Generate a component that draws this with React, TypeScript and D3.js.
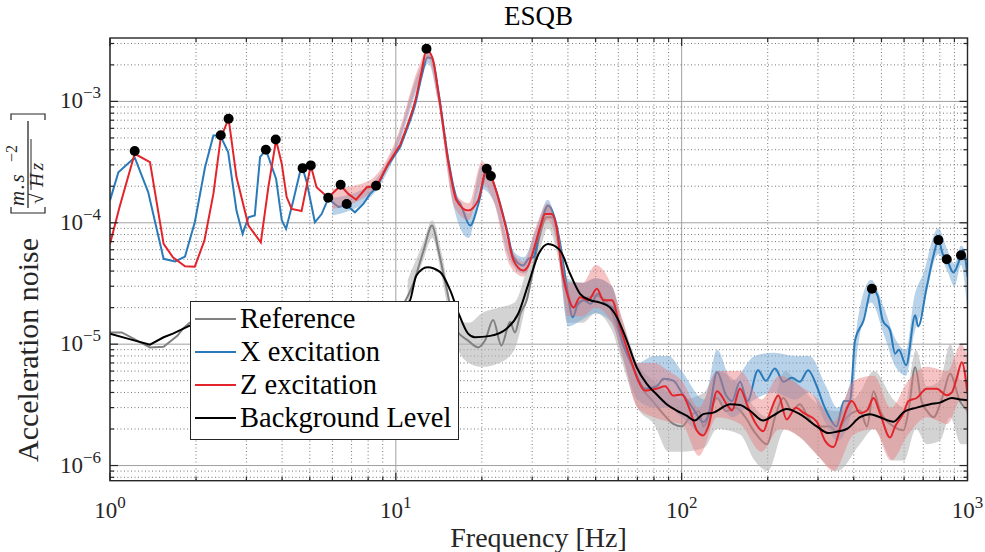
import React from 'react';
import * as d3 from 'd3';

// ---- layout (px) ----
const W = 985;
const H = 552;
const LEFT = 110;
const RIGHT = 967.5;
const TOP = 38;
const BOTTOM = 480.7;

// ---- data: [frequency Hz, noise] ----
const referenceSmooth: [number, number][] = [
  [1.0, 1.25e-5], [1.1, 1.25e-5], [1.38, 9.4e-6], [1.54, 9.5e-6], [1.72, 1.17e-5], [1.8, 1.34e-5],
  [1.9, 1.5e-5], [2.5, 1.6e-5], [4, 1.5e-5], [6, 1.4e-5], [8, 1.45e-5], [10, 1.7e-5],
  [11.5, 3.14e-5], [12.5, 5.9e-5], [13.4, 9.5e-5], [14.1, 5.9e-5], [15.1, 2.77e-5], [16.3, 1.3e-5],
  [17.9, 1.07e-5], [19.4, 9.4e-6], [20.5, 1.07e-5], [21.9, 1.58e-5], [23.4, 9.75e-6], [25.1, 1.52e-5],
  [26.1, 1.25e-5], [27.3, 1.8e-5], [28.7, 2.3e-5], [29.9, 3.6e-5], [31.6, 7.2e-5], [33.7, 1.11e-4],
  [35.5, 1.11e-4], [37.6, 6e-5], [39.5, 3.0e-5], [42, 2.0e-5], [45, 2.3e-5], [50, 2.5e-5],
  [55, 2.2e-5], [60, 1.3e-5], [66, 7.5e-6], [72, 4.5e-6], [80, 3.3e-6], [87, 2.6e-6],
  [93.5, 2.2e-6], [100, 2.1e-6], [108, 2.6e-6], [115, 2.8e-6], [119, 2.1e-6], [133, 3.6e-6],
  [143, 2.8e-6], [155, 3.0e-6], [167, 2.5e-6], [181, 1.85e-6], [199, 1.5e-6], [212, 2.5e-6],
  [227, 3.6e-6], [243, 2.84e-6], [259, 3.2e-6], [277, 2.5e-6], [297, 2.1e-6], [330, 2.1e-6],
  [348, 1.9e-6], [378, 2.5e-6], [421, 2.84e-6], [445, 2.1e-6], [469, 4.1e-6], [494, 2.84e-6],
  [551, 2.1e-6], [597, 1.95e-6], [622, 2.84e-6], [656, 6.45e-6], [690, 3.4e-6], [720, 2.84e-6],
  [760, 2.5e-6], [820, 3.77e-6], [869, 5.7e-6], [940, 3.4e-6], [1000, 2.84e-6],
];

const xExcitationSmooth: [number, number][] = [
  [1.0, 1.53e-4], [1.07, 2.61e-4], [1.22, 3.45e-4], [1.36, 1.79e-4], [1.54, 5.05e-5], [1.69, 4.8e-5],
  [1.83, 5.27e-5], [1.98, 1.01e-4], [2.15, 2.87e-4], [2.3, 5.25e-4], [2.43, 5.25e-4], [2.59, 3.82e-4],
  [2.77, 1.26e-4], [2.91, 8.1e-5], [3.05, 1.11e-4], [3.21, 1.15e-4], [3.35, 3.47e-4], [3.51, 4.0e-4],
  [3.81, 2.31e-4], [3.99, 1.05e-4], [4.13, 8.9e-5], [4.38, 1.53e-4], [4.62, 2.61e-4], [4.72, 2.82e-4],
  [4.88, 2.16e-4], [5.21, 1.01e-4], [5.5, 1.18e-4], [5.8, 1.58e-4], [6.3, 1.35e-4], [6.73, 1.4e-4],
  [7.19, 1.22e-4], [7.7, 1.43e-4], [8.12, 1.73e-4], [8.57, 1.96e-4], [9.29, 2.87e-4], [10.35, 4.2e-4],
  [10.9, 5.8e-4], [11.7, 9.5e-4], [12.3, 1.6e-3], [12.9, 2.3e-3], [13.4, 2.25e-3], [14.1, 1.2e-3],
  [15.3, 3.2e-4], [16.3, 1.6e-4], [16.8, 1.44e-4], [18.2, 9.5e-5], [19.4, 1.4e-4], [20.8, 2.6e-4],
  [21.5, 2.4e-4], [22.5, 1.8e-4], [24.4, 9.0e-5], [25.8, 5.2e-5], [27.9, 4.45e-5], [29.1, 5.05e-5],
  [30.3, 5.2e-5], [32.0, 9.2e-5], [34.1, 1.39e-4], [35.9, 1.11e-4], [37.6, 6.7e-5], [39.5, 3.14e-5],
  [41.6, 1.67e-5], [43.4, 2.15e-5], [45.5, 2.3e-5], [48, 2.15e-5], [51, 2.6e-5], [54, 2.15e-5],
  [57.5, 2.0e-5], [61.7, 1.07e-5], [67.6, 6.45e-6], [74.4, 4.3e-6], [81.8, 4.5e-6], [86.5, 5.2e-6],
  [93.5, 5.0e-6], [100, 4.0e-6], [110, 2.92e-6], [119, 2.28e-6], [124, 2.6e-6], [133, 5.9e-6],
  [143, 3.8e-6], [150, 3.4e-6], [160, 4.9e-6], [170, 3.4e-6], [185, 6.1e-6], [197, 5.0e-6],
  [212, 6.3e-6], [227, 4.9e-6], [243, 5.3e-6], [259, 4.9e-6], [277, 6.1e-6], [297, 4.5e-6],
  [313, 3.2e-6], [326, 2.6e-6], [348, 2.1e-6], [370, 3.4e-6], [388, 3.4e-6], [404, 1.07e-5],
  [433, 1.57e-5], [463, 2.86e-5], [485, 2.5e-5], [505, 1.57e-5], [536, 1.3e-5], [558, 8.35e-6],
  [575, 9.0e-6], [610, 6.7e-6], [656, 1.73e-5], [672, 1.4e-5], [720, 2.95e-5], [763, 5.55e-5],
  [791, 7.2e-5], [820, 5.5e-5], [846, 5.0e-5], [893, 3.9e-5], [949, 5.4e-5], [965, 6.0e-5],
  [1000, 3.6e-5],
];

const zExcitationSmooth: [number, number][] = [
  [1.0, 6.7e-5], [1.08, 1.35e-4], [1.22, 3.7e-4], [1.38, 3.16e-4], [1.54, 6.7e-5], [1.66, 5.2e-5],
  [1.83, 4.38e-5], [1.98, 4.35e-5], [2.14, 7.15e-5], [2.3, 1.73e-4], [2.44, 5.0e-4], [2.6, 7.2e-4],
  [2.77, 2.38e-4], [3.05, 9.5e-5], [3.37, 6.9e-5], [3.58, 1.96e-4], [3.81, 4.8e-4], [3.99, 3.06e-4],
  [4.15, 1.63e-4], [4.32, 1.3e-4], [4.68, 1.25e-4], [5.04, 2.97e-4], [5.28, 1.96e-4], [5.8, 1.61e-4],
  [6.41, 2.03e-4], [6.82, 1.73e-4], [7.26, 1.55e-4], [7.91, 1.96e-4], [8.57, 2.0e-4], [9.41, 3.06e-4],
  [10.35, 4.4e-4], [10.9, 6.1e-4], [11.7, 1.02e-3], [12.3, 1.75e-3], [12.8, 2.65e-3], [13.4, 2.32e-3],
  [14.1, 1.16e-3], [15.3, 3.06e-4], [16.3, 1.53e-4], [17.9, 1.26e-4], [19.4, 1.53e-4], [20.8, 2.75e-4],
  [21.5, 2.45e-4], [22.5, 1.8e-4], [24.4, 8.65e-5], [25.8, 4.9e-5], [27.9, 4.05e-5], [29.1, 4.45e-5],
  [30.3, 5.9e-5], [32.0, 9.2e-5], [33.3, 1.18e-4], [35.1, 1.18e-4], [36.5, 9.2e-5], [38.0, 4.3e-5],
  [40.1, 2.44e-5], [41.8, 2.0e-5], [44.1, 2.44e-5], [47.2, 2.3e-5], [50.5, 2.86e-5], [53.3, 2.3e-5],
  [57.0, 2.3e-5], [60.9, 1.38e-5], [65.9, 7.8e-6], [70.5, 5.0e-6], [74.4, 4.15e-6], [81.8, 4.3e-6],
  [87.5, 4.5e-6], [93.5, 3.77e-6], [100, 3.85e-6], [107, 2.84e-6], [113, 1.94e-6], [119, 1.77e-6],
  [124, 2.1e-6], [133, 4.1e-6], [145, 3.1e-6], [150, 2.84e-6], [160, 4.3e-6], [170, 3.1e-6],
  [180, 2.3e-6], [193, 1.92e-6], [203, 2.65e-6], [218, 3.77e-6], [233, 2.4e-6], [251, 3.0e-6],
  [268, 2.7e-6], [297, 2.3e-6], [318, 1.59e-6], [340, 1.42e-6], [362, 2.2e-6], [394, 3.4e-6],
  [421, 2.7e-6], [445, 2.84e-6], [469, 3.6e-6], [494, 2.7e-6], [536, 1.7e-6], [558, 2.1e-6],
  [597, 2.7e-6], [622, 3.4e-6], [664, 3.6e-6], [720, 4.3e-6], [780, 4.3e-6], [846, 3.8e-6],
  [881, 4.0e-6], [918, 5.3e-6], [955, 7.1e-6], [1000, 3.9e-6],
];

const backgroundLevel: [number, number][] = [
  [1.0, 1.22e-5], [1.17, 1.1e-5], [1.38, 9.9e-6], [1.54, 1.14e-5], [1.66, 1.22e-5], [1.9, 1.42e-5],
  [2.5, 1.6e-5], [4, 1.5e-5], [6, 1.4e-5], [8, 1.5e-5], [10, 1.8e-5], [11.2, 2.29e-5],
  [11.8, 3.68e-5], [12.9, 4.3e-5], [14.3, 3.92e-5], [15.5, 2.77e-5], [16.6, 1.78e-5], [17.9, 1.22e-5],
  [18.9, 1.14e-5], [21.4, 1.17e-5], [24.4, 1.34e-5], [26.8, 1.78e-5], [29.1, 3.14e-5], [31.6, 5.55e-5],
  [34.1, 6.7e-5], [37.6, 5.9e-5], [40.7, 3.8e-5], [44.1, 2.6e-5], [47.9, 2.3e-5], [51.8, 2.2e-5],
  [56.2, 2.0e-5], [59.3, 1.67e-5], [64.3, 1.07e-5], [69.6, 6.45e-6], [75.5, 4.7e-6], [81.8, 3.85e-6],
  [88.6, 3.2e-6], [96, 2.84e-6], [104, 2.58e-6], [111, 2.35e-6], [119, 2.65e-6], [129, 2.73e-6],
  [148, 3.2e-6], [160, 3.15e-6], [173, 2.84e-6], [193, 2.35e-6], [209, 2.58e-6], [233, 2.92e-6],
  [259, 2.65e-6], [297, 2.1e-6], [326, 1.85e-6], [348, 1.9e-6], [378, 2.0e-6], [421, 2.5e-6],
  [456, 2.65e-6], [494, 2.5e-6], [551, 2.3e-6], [597, 2.75e-6], [664, 3.0e-6], [740, 3.2e-6],
  [801, 3.3e-6], [881, 3.6e-6], [942, 3.5e-6], [1000, 3.45e-6],
];

// raw (unsmoothed) spectra, read as a low / high envelope: [frequency, low, high]
const referenceRaw: [number, number, number][] = [
  [11, 2.2e-5, 3.4e-5], [12.5, 5e-5, 7e-5], [13.4, 7.5e-5, 1.05e-4], [14.5, 3.5e-5, 5.5e-5], [16, 1.1e-5, 1.7e-5],
  [18, 7e-6, 1.5e-5], [20, 6.5e-6, 1.8e-5], [23, 7e-6, 2e-5], [26, 9e-6, 2.2e-5], [29, 2.5e-5, 4.5e-5],
  [32, 6e-5, 1e-4], [34, 9e-5, 1.4e-4], [37, 5e-5, 8e-5], [40, 1.5e-5, 3.5e-5], [45, 1.5e-5, 3.2e-5],
  [50, 1.8e-5, 3.5e-5], [57, 1.3e-5, 3e-5], [62, 7e-6, 1.6e-5], [70, 3e-6, 7e-6], [80, 2.2e-6, 5e-6],
  [90, 1.3e-6, 4e-6], [100, 1.3e-6, 3.5e-6], [120, 1.4e-6, 4e-6], [133, 2e-6, 6e-6], [160, 1.8e-6, 4.5e-6],
  [180, 1.1e-6, 3e-6], [200, 9e-7, 2.5e-6], [230, 2e-6, 6e-6], [260, 1.7e-6, 4.5e-6], [300, 1.2e-6, 3.2e-6],
  [350, 9e-7, 2.8e-6], [420, 1.5e-6, 4e-6], [470, 2e-6, 6e-6], [550, 1.1e-6, 3.5e-6], [600, 1.1e-6, 3e-6],
  [660, 2e-6, 9e-6], [720, 1.5e-6, 4.5e-6], [800, 1.6e-6, 5e-6], [870, 2.5e-6, 1e-5], [950, 1.5e-6, 5e-6],
  [1000, 1.5e-6, 5e-6],
];

const xExcitationRaw: [number, number, number][] = [
  [6, 1.15e-4, 1.6e-4], [8, 1.55e-4, 2.0e-4], [10, 3.7e-4, 4.5e-4], [12, 1.35e-3, 1.75e-3], [13, 2.05e-3, 2.5e-3],
  [14, 1.05e-3, 1.3e-3], [16, 1.3e-4, 2.0e-4], [18, 7.5e-5, 1.2e-4], [20, 1.9e-4, 3.0e-4], [22, 1.5e-4, 2.2e-4],
  [25, 5e-5, 6.5e-5], [28, 3.8e-5, 5.2e-5], [31, 6.5e-5, 9e-5], [34, 1.2e-4, 1.55e-4], [37, 6e-5, 8.5e-5],
  [40, 1.4e-5, 3.3e-5], [45, 1.6e-5, 3.2e-5], [50, 1.8e-5, 3.5e-5], [57, 1.5e-5, 3e-5], [62, 8e-6, 1.4e-5],
  [70, 3.5e-6, 7e-6], [80, 3e-6, 8e-6], [90, 3e-6, 8e-6], [100, 2.5e-6, 6e-6], [120, 1.8e-6, 3.5e-6],
  [133, 3.5e-6, 9e-6], [150, 2.5e-6, 5e-6], [180, 3.5e-6, 8e-6], [210, 4e-6, 8.5e-6], [250, 3.5e-6, 8e-6],
  [280, 4e-6, 8e-6], [320, 2.2e-6, 4.5e-6], [350, 1.6e-6, 3e-6], [390, 2.5e-6, 5e-6], [410, 8e-6, 1.4e-5],
  [460, 2.2e-5, 3.4e-5], [510, 1.2e-5, 2e-5], [560, 6.5e-6, 1.1e-5], [610, 5.5e-6, 9e-6], [650, 1.2e-5, 2.4e-5],
  [700, 2e-5, 3.8e-5], [790, 5.5e-5, 9e-5], [850, 4e-5, 6e-5], [900, 3e-5, 4.6e-5], [950, 4.5e-5, 6.5e-5],
  [1000, 1.8e-5, 5e-5],
];

const zExcitationRaw: [number, number, number][] = [
  [6, 1.3e-4, 1.9e-4], [8, 1.7e-4, 2.2e-4], [10, 4.0e-4, 4.8e-4], [12, 1.45e-3, 1.9e-3], [13, 2.25e-3, 2.8e-3],
  [14, 1.05e-3, 1.3e-3], [16, 1.35e-4, 1.8e-4], [18, 1.05e-4, 1.45e-4], [20, 2.1e-4, 3.2e-4], [22, 1.5e-4, 2.2e-4],
  [25, 4.5e-5, 6.5e-5], [28, 3.6e-5, 4.8e-5], [31, 6.5e-5, 9.5e-5], [34, 1.05e-4, 1.45e-4], [37, 6e-5, 8.5e-5],
  [40, 1.7e-5, 3.2e-5], [45, 1.7e-5, 3.2e-5], [50, 2e-5, 4.5e-5], [57, 1.5e-5, 3e-5], [62, 8e-6, 1.6e-5],
  [70, 3e-6, 7e-6], [80, 2.5e-6, 7e-6], [90, 2.3e-6, 6e-6], [100, 2.2e-6, 5e-6], [115, 1.2e-6, 3e-6],
  [133, 2.5e-6, 6e-6], [160, 2.2e-6, 6e-6], [190, 1.3e-6, 3.5e-6], [220, 2e-6, 5.5e-6], [260, 1.7e-6, 4.5e-6],
  [300, 1.2e-6, 3.5e-6], [340, 9e-7, 2.3e-6], [400, 1.8e-6, 5e-6], [470, 2e-6, 5.5e-6], [540, 1.1e-6, 3e-6],
  [620, 1.8e-6, 5e-6], [720, 2.5e-6, 6.5e-6], [850, 2.2e-6, 6e-6], [950, 3.5e-6, 1e-5], [1000, 2.5e-6, 8e-6],
];

// detected peaks (black dots)
const peakFreq = [1.22, 2.44, 2.6, 3.51, 3.8, 4.72, 5.04, 5.8, 6.41, 6.73, 8.53, 12.8, 20.8, 21.5, 463, 791, 846, 949];
const peakVal = [3.9e-4, 5.27e-4, 7.2e-4, 4.0e-4, 4.86e-4, 2.82e-4, 2.97e-4, 1.61e-4, 2.06e-4, 1.43e-4, 2.02e-4, 2.72e-3, 2.79e-4, 2.43e-4, 2.86e-5, 7.2e-5, 5.0e-5, 5.4e-5];

// axes
const xMajorTicks = [1, 10, 100, 1000];
const xTickExp = ['0', '1', '2', '3'];
const yMajorTicks = [1e-6, 1e-5, 1e-4, 1e-3];
const yTickExp = ['\u22126', '\u22125', '\u22124', '\u22123'];

const legendLabels = ['Reference', 'X excitation', 'Z excitation', 'Background Level'];
const legendColors = ['#808080', '#2a7ab9', '#e3242b', '#000000'];

const FONT = '"Liberation Serif", "DejaVu Serif", serif';

export default function App() {
  const xScale = d3.scaleLog().domain([1, 1000]).range([LEFT, RIGHT]);
  const yScale = d3.scaleLog().domain([7.5e-7, 3.33e-3]).range([BOTTOM, TOP]);

  const isMajor = (t: number) => Math.abs(Math.log10(t) - Math.round(Math.log10(t))) < 1e-9;
  const xTicks = xScale.ticks();
  const yTicks = yScale.ticks();

  const lineLin = d3.line<[number, number]>()
    .x(d => xScale(d[0]))
    .y(d => yScale(d[1]));
  const lineSmooth = d3.line<[number, number]>()
    .x(d => xScale(d[0]))
    .y(d => yScale(d[1]))
    .curve(d3.curveMonotoneX);

  // coarse low-frequency part is drawn with straight segments, the rest smoothly
  const seriesPath = (data: [number, number][]) => {
    let cut = 0;
    data.forEach((d, i) => { if (d[0] <= 10.4) cut = i; });
    return (lineLin(data.slice(0, cut + 1)) || '') + (lineSmooth(data.slice(cut)) || '');
  };

  const band = d3.area<[number, number, number]>()
    .x(d => xScale(d[0]))
    .y0(d => yScale(d[1]))
    .y1(d => yScale(d[2]))
    .curve(d3.curveMonotoneX);

  return (
    <svg width={W} height={H} style={{ position: 'absolute', left: 0, top: 0, background: '#fff' }}
      fontFamily={FONT}>
      <defs>
        <clipPath id="plot-clip">
          <rect x={LEFT} y={TOP} width={RIGHT - LEFT} height={BOTTOM - TOP} />
        </clipPath>
      </defs>

      {/* grid */}
      <g>
        {xTicks.map((t, i) => isMajor(t)
          ? <line key={'xg' + i} x1={xScale(t)} x2={xScale(t)} y1={TOP} y2={BOTTOM} stroke="#a0a0a0" strokeWidth={1} />
          : <line key={'xg' + i} x1={xScale(t)} x2={xScale(t)} y1={TOP} y2={BOTTOM} stroke="#4a4a4a" strokeWidth={1} strokeDasharray="1 2.5" opacity={0.75} />)}
        {yTicks.map((t, i) => isMajor(t)
          ? <line key={'yg' + i} y1={yScale(t)} y2={yScale(t)} x1={LEFT} x2={RIGHT} stroke="#a0a0a0" strokeWidth={1} />
          : <line key={'yg' + i} y1={yScale(t)} y2={yScale(t)} x1={LEFT} x2={RIGHT} stroke="#4a4a4a" strokeWidth={1} strokeDasharray="1 2.5" opacity={0.75} />)}
      </g>

      {/* data */}
      <g clipPath="url(#plot-clip)">
        <path d={band(referenceRaw) || ''} fill="#b5b5b5" opacity={0.6} />
        <path d={seriesPath(referenceSmooth)} fill="none" stroke="#808080" strokeWidth={2} />
        <path d={band(xExcitationRaw) || ''} fill="#6fa6d3" opacity={0.5} />
        <path d={seriesPath(xExcitationSmooth)} fill="none" stroke="#2a7ab9" strokeWidth={2} />
        <path d={band(zExcitationRaw) || ''} fill="#e8797d" opacity={0.45} />
        <path d={seriesPath(zExcitationSmooth)} fill="none" stroke="#e3242b" strokeWidth={2} />
        <path d={seriesPath(backgroundLevel)} fill="none" stroke="#000" strokeWidth={2} />
        {peakFreq.map((f, i) => (
          <circle key={'pk' + i} cx={xScale(f)} cy={yScale(peakVal[i])} r={5} fill="#000" />
        ))}
      </g>

      {/* axes box and ticks */}
      <rect x={LEFT} y={TOP} width={RIGHT - LEFT} height={BOTTOM - TOP} fill="none" stroke="#262626" strokeWidth={1.4} />
      <g stroke="#262626" strokeWidth={1.2}>
        {xTicks.map((t, i) => {
          const len = isMajor(t) ? 8 : 4;
          const x = xScale(t);
          return (
            <g key={'xt' + i}>
              <line x1={x} x2={x} y1={BOTTOM} y2={BOTTOM - len} />
              <line x1={x} x2={x} y1={TOP} y2={TOP + len} />
            </g>
          );
        })}
        {yTicks.map((t, i) => {
          const len = isMajor(t) ? 8 : 4;
          const y = yScale(t);
          return (
            <g key={'yt' + i}>
              <line x1={LEFT} x2={LEFT + len} y1={y} y2={y} />
              <line x1={RIGHT} x2={RIGHT - len} y1={y} y2={y} />
            </g>
          );
        })}
      </g>

      {/* tick labels */}
      <g fill="#262626">
        {xMajorTicks.map((t, i) => (
          <text key={'xl' + i} x={xScale(t)} y={518} textAnchor="middle" fontSize={23}>
            10<tspan dy={-10} fontSize={17}>{xTickExp[i]}</tspan>
          </text>
        ))}
        {yMajorTicks.map((t, i) => (
          <text key={'yl' + i} x={101} y={yScale(t) + 7} textAnchor="end" fontSize={23}>
            10<tspan dy={-10} fontSize={17}>{yTickExp[i]}</tspan>
          </text>
        ))}
      </g>

      {/* legend */}
      <g>
        <rect x={190.5} y={301.5} width={268} height={138} fill="#fff" stroke="#262626" strokeWidth={1} />
        {legendLabels.map((lab, i) => {
          const y = 319 + i * 33;
          return (
            <g key={'lg' + i}>
              <line x1={195} x2={236} y1={y} y2={y} stroke={legendColors[i]} strokeWidth={2} />
              <text x={240} y={y + 9} fontSize={28.5} fill="#000">{lab}</text>
            </g>
          );
        })}
      </g>

      {/* title and axis labels */}
      <text x={538.5} y={25} textAnchor="middle" fontSize={27} fill="#000">ESQB</text>
      <text x={538.5} y={547} textAnchor="middle" fontSize={28} fill="#262626">Frequency [Hz]</text>

      <g transform="translate(38, 462) rotate(-90)" fill="#262626">
        <text x={0} y={0} fontSize={30}>Acceleration noise</text>
        <path d="M 255 -27 L 249 -27 L 249 7 L 255 7" fill="none" stroke="#262626" strokeWidth={1.2} />
        <path d="M 342 -27 L 348 -27 L 348 7 L 342 7" fill="none" stroke="#262626" strokeWidth={1.2} />
        <text x={256} y={-14} fontSize={21} fontStyle="italic" letterSpacing={1.5}>m.s</text>
        <text x={300} y={-21} fontSize={16}>{'\u22122'}</text>
        <line x1={254} x2={341} y1={-10} y2={-10} stroke="#262626" strokeWidth={1.3} />
        <text x={258} y={5} fontSize={19}>{'\u221A'}</text>
        <text x={275} y={5} fontSize={19} fontStyle="italic" letterSpacing={3}>Hz</text>
        <line x1={272} x2={323} y1={-7} y2={-7} stroke="#262626" strokeWidth={1} />
      </g>
    </svg>
  );
}
